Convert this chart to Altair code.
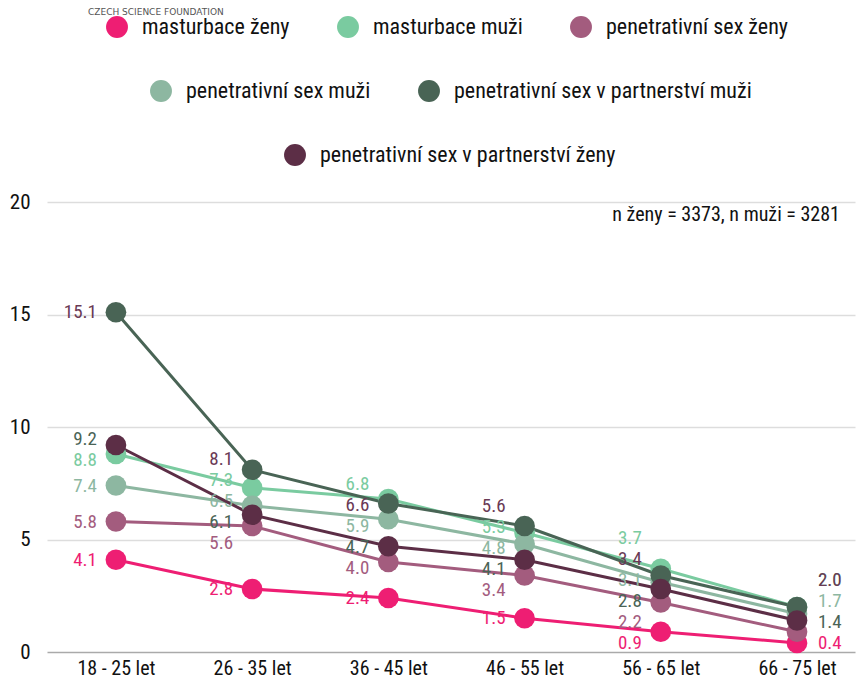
import altair as alt
import pandas as pd

ages = ["18 - 25 let", "26 - 35 let", "36 - 45 let", "46 - 55 let", "56 - 65 let", "66 - 75 let"]
series_names = [
    "masturbace ženy",
    "masturbace muži",
    "penetrativní sex ženy",
    "penetrativní sex muži",
    "penetrativní sex v partnerství muži",
    "penetrativní sex v partnerství ženy",
]
masturbace_zeny = [4.1, 2.8, 2.4, 1.5, 0.9, 0.4]
masturbace_muzi = [8.8, 7.3, 6.8, 5.3, 3.7, 2.0]
pen_sex_zeny = [5.8, 5.6, 4.0, 3.4, 2.2, 0.9]
pen_sex_muzi = [7.4, 6.5, 5.9, 4.8, 3.1, 1.7]
partner_muzi = [15.1, 8.1, 6.6, 5.6, 3.4, 2.0]
partner_zeny = [9.2, 6.1, 4.7, 4.1, 2.8, 1.4]
# which values carry a printed label (the 66-75 value of "penetrativní sex ženy" has none)
label_shown = [
    [1, 1, 1, 1, 1, 1],
    [1, 1, 1, 1, 1, 1],
    [1, 1, 1, 1, 1, 0],
    [1, 1, 1, 1, 1, 1],
    [1, 1, 1, 1, 1, 1],
    [1, 1, 1, 1, 1, 1],
]
note_text = "n ženy = 3373, n muži = 3281"
brand_text = "CZECH SCIENCE FOUNDATION"

series_colors = ["#EE1E73", "#7ACBA0", "#A35C7E", "#8DB7A1", "#496455", "#5C2E46"]
label_colors = ["#EE1E73", "#7ACBA0", "#A35C7E", "#8DB7A1", "#6A3A55", "#4A6456"]

PLOT_W, PLOT_H = 808, 450
Y_MAX = 20
LABEL_GAP = 21  # minimal vertical distance between value labels, px
BOTTOM_MARGIN = 9  # keep labels this far above the plot bottom, px

values = [masturbace_zeny, masturbace_muzi, pen_sex_zeny, pen_sex_muzi, partner_muzi, partner_zeny]


def spread_labels(vals):
    """Simple label de-overlap: returns adjusted data values so labels are >= LABEL_GAP px apart."""
    uniq = sorted(set(vals), reverse=True)  # top to bottom
    px = {v: (Y_MAX - v) / Y_MAX * PLOT_H for v in uniq}
    clusters = [{"ys": [px[v]], "vals": [v], "start": px[v]} for v in uniq]
    merged = True
    while merged:
        merged = False
        for i in range(len(clusters) - 1):
            a, b = clusters[i], clusters[i + 1]
            end_a = a["start"] + (len(a["ys"]) - 1) * LABEL_GAP
            if b["start"] - end_a < LABEL_GAP:
                ys = a["ys"] + b["ys"]
                vs = a["vals"] + b["vals"]
                start = sum(ys) / len(ys) - (len(ys) - 1) * LABEL_GAP / 2
                clusters[i] = {"ys": ys, "vals": vs, "start": start}
                del clusters[i + 1]
                merged = True
                break
    last = clusters[-1]
    end = last["start"] + (len(last["ys"]) - 1) * LABEL_GAP
    if end > PLOT_H - BOTTOM_MARGIN:
        last["start"] -= end - (PLOT_H - BOTTOM_MARGIN)
    out = {}
    for c in clusters:
        for k, v in enumerate(c["vals"]):
            y = c["start"] + k * LABEL_GAP
            out[v] = Y_MAX - y / PLOT_H * Y_MAX
    return out


rows = []
for ai, age in enumerate(ages):
    shown_vals = [values[si][ai] for si in range(len(series_names)) if label_shown[si][ai]]
    pos = spread_labels(shown_vals)
    for si, name in enumerate(series_names):
        v = values[si][ai]
        shown = bool(label_shown[si][ai])
        rows.append({
            "series": name,
            "age": age,
            "value": v,
            "label": f"{v:.1f}" if shown else "",
            "label_y": pos[v] if shown else v,
            "last": ai == len(ages) - 1,
        })
df = pd.DataFrame(rows)

FONT = "Roboto Condensed"

x_enc = alt.X(
    "age:N", sort=ages,
    scale=alt.Scale(type="point", padding=0.466, align=0.543),
    axis=alt.Axis(title=None, labelFontSize=20, labelColor="#111", labelFont=FONT,
                  ticks=False, domain=False, labelPadding=6, labelAngle=0, grid=False),
)
y_enc = alt.Y(
    "value:Q",
    scale=alt.Scale(domain=[0, Y_MAX], nice=False),
    axis=alt.Axis(title=None, values=[0, 5, 10, 15, 20], labelFontSize=21, labelColor="#111",
                  labelFont=FONT, ticks=False, domain=False, labelPadding=17,
                  gridColor={"condition": {"test": "datum.value === 0", "value": "#aaaaaa"}, "value": "#dddddd"},
                  gridWidth=1.5),
)

base = alt.Chart(df)

lines = base.mark_line(strokeWidth=3).encode(
    x=x_enc, y=y_enc,
    stroke=alt.Stroke("series:N", scale=alt.Scale(domain=series_names, range=series_colors), legend=None),
    detail="series:N",
)

groups = [(0, 3, 59, -186), (3, 5, 103, -122), (5, 6, 237, -58)]
point_layers = []
for a, b, lx, ly in groups:
    names = series_names[a:b]
    cols = series_colors[a:b]
    p = base.transform_filter(alt.FieldOneOfPredicate(field="series", oneOf=names)).mark_circle(
        size=430, opacity=1
    ).encode(
        x=alt.X("age:N", sort=ages),
        y="value:Q",
        color=alt.Color(
            "series:N",
            scale=alt.Scale(domain=names, range=cols),
            sort=names,
            legend=alt.Legend(
                title=None, orient="none", legendX=lx, legendY=ly, direction="horizontal",
                columns=3, symbolType="circle", symbolSize=480, labelFontSize=22,
                labelFont=FONT, labelColor="#111", labelOffset=14, columnPadding=47,
                padding=0, symbolStrokeWidth=0, labelLimit=400,
            ),
        ),
    )
    point_layers.append(p)

label_color = alt.Color("series:N", scale=alt.Scale(domain=series_names, range=label_colors), legend=None)


def label_layer(last):
    align = "left" if last else "right"
    dx = 21 if last else -19
    flt = "datum.last" if last else "!datum.last"
    mk = base.transform_filter(flt).transform_filter("datum.label != ''").mark_text(
        align=align, baseline="middle", dx=dx, fontSize=19, font=FONT
    )
    return mk.encode(x=alt.X("age:N", sort=ages), y="label_y:Q", text="label:N", color=label_color)


note = alt.Chart(pd.DataFrame({"t": [note_text]})).mark_text(
    align="right", baseline="middle", fontSize=20, font=FONT, color="#111"
).encode(x=alt.value(793), y=alt.value(13), text="t:N")

brand = alt.Chart(pd.DataFrame({"t": [brand_text]})).mark_text(
    align="left", baseline="middle", fontSize=9, font="DejaVu Sans", color="#555"
).encode(x=alt.value(41), y=alt.value(-190), text="t:N")

chart = alt.layer(
    lines, *point_layers,
    label_layer(False), label_layer(True),
    note, brand
).resolve_scale(
    color="independent"
).properties(
    width=PLOT_W, height=PLOT_H,
    autosize=alt.AutoSizeParams(type="none"),
    padding={"left": 39, "top": 194, "right": 1, "bottom": 28},
    background="white",
).configure_view(stroke=None)

chart.save("out.html", embed_options={"renderer": "svg", "actions": False})
